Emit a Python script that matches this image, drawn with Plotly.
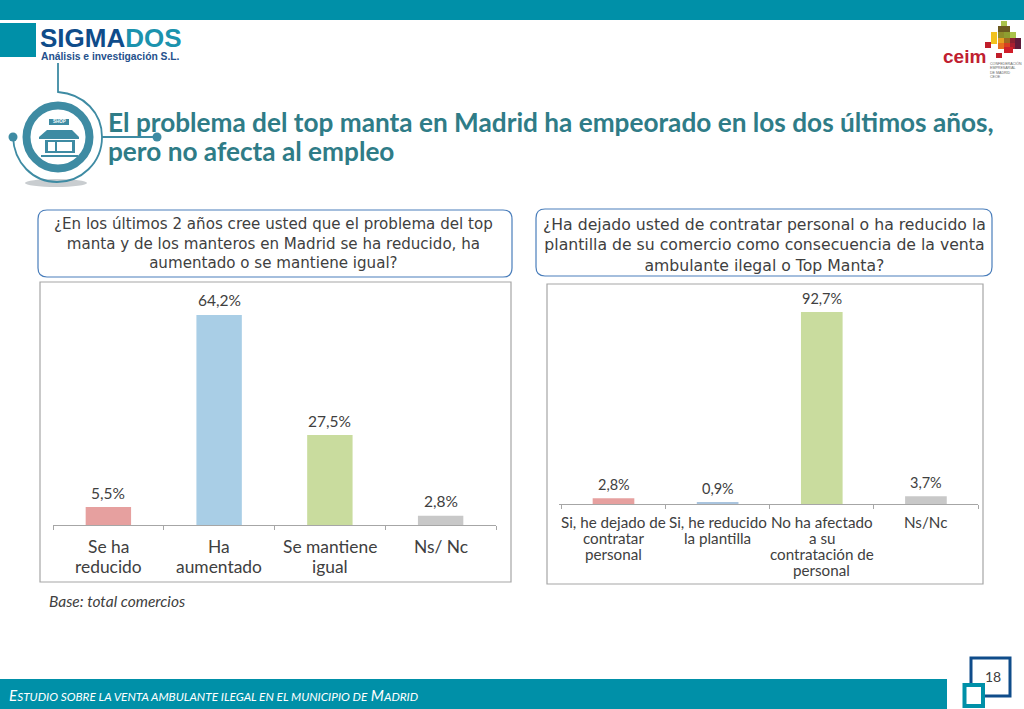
import plotly.graph_objects as go

W, H = 1024, 709
FONT = "Lato"
QFONT = "DejaVu Sans"
TEXT = "#404040"

cats_left = ["Se ha<br>reducido", "Ha<br>aumentado", "Se mantiene<br>igual", "Ns/ Nc"]
vals_left = [5.5, 64.2, 27.5, 2.8]
labels_left = ["5,5%", "64,2%", "27,5%", "2,8%"]

cats_right = ["Si, he dejado de<br>contratar<br>personal", "Si, he reducido<br>la plantilla",
              "No ha afectado<br>a su<br>contratación de<br>personal", "Ns/Nc"]
vals_right = [2.8, 0.9, 92.7, 3.7]
labels_right = ["2,8%", "0,9%", "92,7%", "3,7%"]

colors_left = ["#E6A09F", "#A9CEE6", "#C9DC9E", "#C8C8C8"]
colors_right = ["#E6A09F", "#A9C4DE", "#C9DC9E", "#C8C8C8"]

q_left = ["¿En los últimos 2 años cree usted que el problema del top",
          "manta y de los manteros en Madrid se ha reducido, ha",
          "aumentado o se mantiene igual?"]
q_right = ["¿Ha dejado usted de contratar personal o ha reducido la",
           "plantilla de su comercio como consecuencia de la venta",
           "ambulante ilegal o Top Manta?"]

def px(x): return x / W
def py(y): return 1 - y / H

shapes, notes = [], []

def rect(x0, y0, x1, y1, fill=None, line=None, lw=1):
    shapes.append(dict(type="rect", xref="paper", yref="paper", x0=px(x0), x1=px(x1), y0=py(y0), y1=py(y1),
                       fillcolor=fill or "rgba(0,0,0,0)", line=dict(color=line or "rgba(0,0,0,0)", width=lw if line else 0),
                       layer="below"))

def circle(cx, cy, r, fill=None, line=None, lw=1, ry=None):
    ry = ry or r
    shapes.append(dict(type="circle", xref="paper", yref="paper", x0=px(cx - r), x1=px(cx + r), y0=py(cy - ry), y1=py(cy + ry),
                       fillcolor=fill or "rgba(0,0,0,0)", line=dict(color=line or "rgba(0,0,0,0)", width=lw if line else 0),
                       layer="below"))

def path(cmds, fill=None, line=None, lw=1):
    out = []
    for c in cmds:
        if isinstance(c, str):
            out.append(c)
        else:
            out.append(f"{px(c[0]):.5f},{py(c[1]):.5f}")
    shapes.append(dict(type="path", xref="paper", yref="paper", path=" ".join(out),
                       fillcolor=fill or "rgba(0,0,0,0)", line=dict(color=line or "rgba(0,0,0,0)", width=lw if line else 0),
                       layer="below"))

def rrect(x0, y0, x1, y1, r, line, lw=1.2):
    path(["M", (x0 + r, y0), "L", (x1 - r, y0), "Q", (x1, y0), (x1, y0 + r), "L", (x1, y1 - r), "Q", (x1, y1), (x1 - r, y1),
          "L", (x0 + r, y1), "Q", (x0, y1), (x0, y1 - r), "L", (x0, y0 + r), "Q", (x0, y0), (x0 + r, y0), "Z"],
         fill="#FFFFFF", line=line, lw=lw)

def text(x, y, s, size, color=TEXT, anchor="center", family=FONT):
    if anchor == "left":
        x -= 2
    notes.append(dict(xref="paper", yref="paper", x=px(x), y=py(y), text=s, showarrow=False, xanchor=anchor, yanchor="middle",
                      align=anchor, font=dict(size=size, color=color, family=family)))

TEAL = "#0090A8"
ICON = "#3E8BA3"

# banners
rect(0, 0, 1024, 20, fill=TEAL)
rect(0, 23, 36, 57, fill=TEAL)
rect(0, 679, 947, 709, fill=TEAL)

# logos
text(40, 38, "<b><span style='color:#0F4C8A'>SIGMA</span><span style='color:#1B93AE'>DOS</span></b>", 26,
     "#0F4C8A", "left", "Liberation Sans")
text(41, 57, "<b>Análisis e investigación S.L.</b>", 10.3, "#24508C", "left", "Liberation Sans")
text(964, 57, "<b>ceim</b>", 19, "#C02030", "center", "Liberation Sans")
for i, line_ in enumerate(["CONFEDERACIÓN", "EMPRESARIAL", "DE MADRID", "CEOE"]):
    text(990, 64 + i * 4.5, line_, 3.6, "#666666", "left", "Liberation Sans")
ceim_cells = [(1004, 24, "#A9C24A"), (1001, 29, "#6B5A20"), (1007, 29, "#6B5A20"), (994, 35, "#F2C21E"), (1001, 35, "#8E8E2A"),
              (1007, 35, "#8E9E30"), (1013, 35, "#A9C24A"), (994, 41, "#F2C21E"), (1001, 41, "#E8A020"), (1007, 41, "#A06A20"),
              (1013, 41, "#8A2030"), (1018, 41, "#5E1A3A"), (1001, 46, "#E8701E"), (1007, 46, "#D84020"), (1013, 46, "#A81E30"),
              (1018, 46, "#5E1A3A"), (1007, 50, "#D01E2A"), (1010, 50, "#D01E2A")]
for cx, cy, col in ceim_cells:
    rect(cx - 3, cy - 3, cx + 3, cy + 3, fill=col)
rect(985, 42, 991, 48, fill="#C01E2A")
rect(996, 53, 1002, 58, fill="#C01E2A")

# title icon
circle(56, 183, 31, fill="#C9CDD0", ry=4)
path(["M", (58, 63), "L", (58, 92), "C", (84, 94), (102, 113), (102, 137), "C", (102, 163), (81, 182), (57, 182),
      "C", (33, 182), (14, 163), (13, 137)], line=ICON, lw=1.8)
circle(58, 137, 31.5, fill="#FFFFFF", line=ICON, lw=8)
path(["M", (102, 137), "L", (157, 137)], line=ICON, lw=2)
circle(13, 137, 4.5, fill=ICON)
circle(157, 137, 4.5, fill=ICON)
rect(49, 119, 69, 125, fill=ICON)
text(59, 122, "<b>SHOP</b>", 4.5, "#FFFFFF", "center", "Liberation Sans")
path(["M", (47, 130), "L", (72, 130), "L", (79, 137), "L", (79, 139), "L", (39, 139), "L", (39, 137), "Z"], fill=ICON)
rect(45, 140, 75, 153, fill=ICON)
rect(48, 142, 55, 151, fill="#FFFFFF")
rect(57, 142, 72, 151, fill="#FFFFFF")
rect(41, 155, 78, 157, fill=ICON)

# title
text(108, 122, "<b>El problema del top manta en Madrid ha empeorado en los dos últimos años,</b>", 26.2, "#2F7C87", "left")
text(108, 151, "<b>pero no afecta al empleo</b>", 26.2, "#2F7C87", "left")

# question boxes
rrect(38, 210, 512, 277, 9, "#4A7EBB")
rrect(536, 209, 992, 276, 9, "#4A7EBB")
text(273, 243.5, "<br>".join(q_left), 15.1, family=QFONT)
text(764, 244.5, "<br>".join(q_right), 15.7, family=QFONT)

# chart frames
rect(40, 282, 511, 582, fill="#FFFFFF", line="#A6A6A6", lw=1.2)
rect(547, 284, 983, 584, fill="#FFFFFF", line="#A6A6A6", lw=1.2)

text(49, 601, "<i>Base: total comercios</i>", 15.5, TEXT, "left")

# footer
small = "<span style='font-size:11.8px'>"
footer = ("<i>E" + small + "STUDIO SOBRE LA VENTA AMBULANTE ILEGAL EN EL MUNICIPIO DE</span> M" + small + "ADRID</span></i>")
text(9, 695, footer, 15.2, "#FFFFFF", "left")

# page number
rect(971, 658, 1010, 696, fill="#FFFFFF", line="#0F4C8A", lw=3)
rect(964.5, 685, 983, 706, fill="#FFFFFF", line=TEAL, lw=4)
text(993, 676, "18", 14, TEXT, "center")

fig = go.Figure()
fig.add_trace(go.Bar(x=cats_left, y=vals_left, marker=dict(color=colors_left, line=dict(width=0)), width=0.41,
                     xaxis="x", yaxis="y"))
fig.add_trace(go.Bar(x=cats_right, y=vals_right, marker=dict(color=colors_right, line=dict(width=0)), width=0.4,
                     xaxis="x2", yaxis="y2"))

def data_labels(cats, vals, labels, xr, yr, size, shift):
    for c, v, s in zip(cats, vals, labels):
        notes.append(dict(xref=xr, yref=yr, x=c, y=v, text=s, showarrow=False, xanchor="center", yanchor="middle",
                          yshift=shift, font=dict(size=size, color=TEXT, family=FONT)))

def cat_labels(cats, xr, ys, size):
    for c in cats:
        for s, y in zip(c.split("<br>"), ys):
            notes.append(dict(xref=xr, yref="paper", x=c, y=py(y), text=s, showarrow=False, xanchor="center", yanchor="middle",
                              font=dict(size=size, color=TEXT, family=FONT)))

data_labels(cats_left, vals_left, labels_left, "x", "y", 15.5, 14.5)
data_labels(cats_right, vals_right, labels_right, "x2", "y2", 14.5, 14)
cat_labels(cats_left, "x", [546, 566], 17.4)
cat_labels(cats_right, "x2", [522, 538, 554, 570], 15.2)

def xax(d0, d1, anchor):
    return dict(domain=[px(d0), px(d1)], anchor=anchor, type="category", tickson="boundaries", ticks="outside", ticklen=4,
                tickcolor="#A6A6A6", showline=True, linecolor="#A6A6A6", linewidth=1, showgrid=False,
                showticklabels=False, automargin=False)

def yax(top, bottom, rng, anchor):
    return dict(domain=[py(bottom), py(top)], anchor=anchor, range=rng, visible=False, showgrid=False, zeroline=False, fixedrange=True)

fig.update_layout(
    width=W, height=H, autosize=False, margin=dict(l=0, r=0, t=0, b=0),
    paper_bgcolor="#FFFFFF", plot_bgcolor="rgba(0,0,0,0)", showlegend=False,
    xaxis=xax(53, 496, "y"), yaxis=yax(296, 525, [0, 70], "x"),
    xaxis2=xax(559, 978, "y2"), yaxis2=yax(297, 504, [0, 100], "x2"),
    shapes=shapes, annotations=notes,
)
fig.write_html("out.html", config=dict(displayModeBar=False),
               post_script="document.body.style.margin='0';document.documentElement.style.overflow='hidden';")
